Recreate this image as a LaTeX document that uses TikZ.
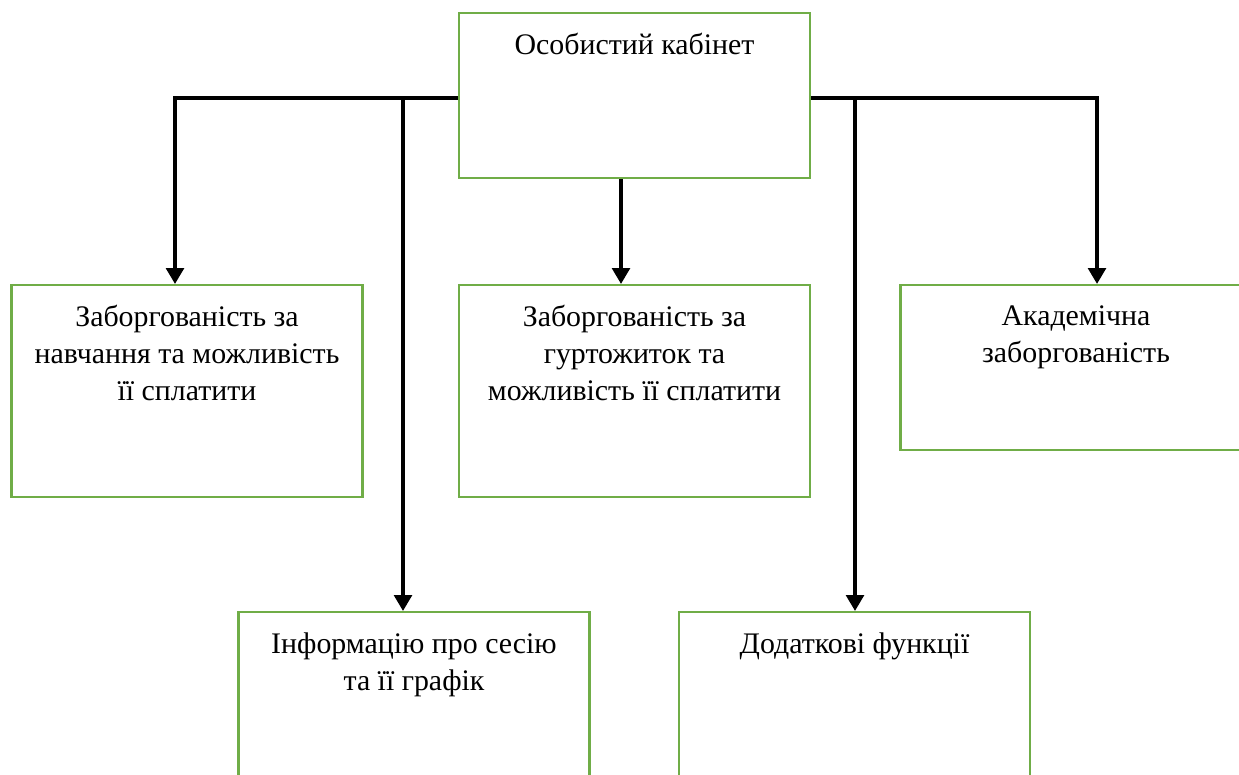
\documentclass[tikz,border=0pt]{standalone}
\usepackage{fontspec}
\setmainfont{Liberation Serif}
\usepackage{tikz}
\usetikzlibrary{arrows.meta, positioning}
\definecolor{frame}{HTML}{70AD47}

\begin{document}
\begin{tikzpicture}[x=0.02cm, y=-0.02cm, font=\fontsize{17}{21}\selectfont,
    box/.style={draw=frame, line width=1.2pt, rectangle, minimum width=7.02cm, inner sep=0pt},
    txt/.style={anchor=north, inner sep=0pt, yshift=-12pt, align=center},
    arr/.style={line width=2pt, -{Triangle[width=10pt, length=9pt]}}]
    \useasboundingbox (0,0) rectangle (1239,774);
    \clip (0,0) rectangle (1239,774);
    % верхній блок
    \node[box, minimum height=3.3cm] (top) at (634.5,95.5) {};
    \node[txt] (ttop) at (top.north) {Особистий кабінет};
    % другий рівень
    \node[box, minimum height=4.24cm] (b1) at (187,391) {};
    \node[box, minimum height=4.24cm] (b2) at (634.5,391) {};
    \node[box, minimum height=3.3cm] (b3) at (1076,367.5) {};
    \node[txt] (t1) at (b1.north) {Заборгованість за\\навчання та можливість\\її сплатити};
    \node[txt] (t2) at (b2.north) {Заборгованість за\\гуртожиток та\\можливість її сплатити};
    \node[txt] (t3) at (b3.north) {Академічна\\заборгованість};
    % третій рівень
    \node[box, minimum height=4.24cm] (b4) at (414,718) {};
    \node[box, minimum height=4.24cm] (b5) at (854.5,718) {};
    \node[txt] (t4) at (b4.north) {Інформацію про сесію\\та її графік};
    \node[txt] (t5) at (b5.north) {Додаткові функції};
    % шина
    \coordinate (j1) at (175,98);
    \coordinate (j4) at (403,98);
    \coordinate (j5) at (855,98);
    \coordinate (j3) at (1097,98);
    \coordinate (j2) at (621,0);
    \draw[arr] (top.west |- j1) -- (j1) -- (j1 |- b1.north);
    \draw[arr] (top.east |- j3) -- (j3) -- (j3 |- b3.north);
    \draw[arr] (j4) -- (j4 |- b4.north);
    \draw[arr] (j5) -- (j5 |- b5.north);
    \draw[arr] (j2 |- top.south) -- (j2 |- b2.north);
\end{tikzpicture}
\end{document}
